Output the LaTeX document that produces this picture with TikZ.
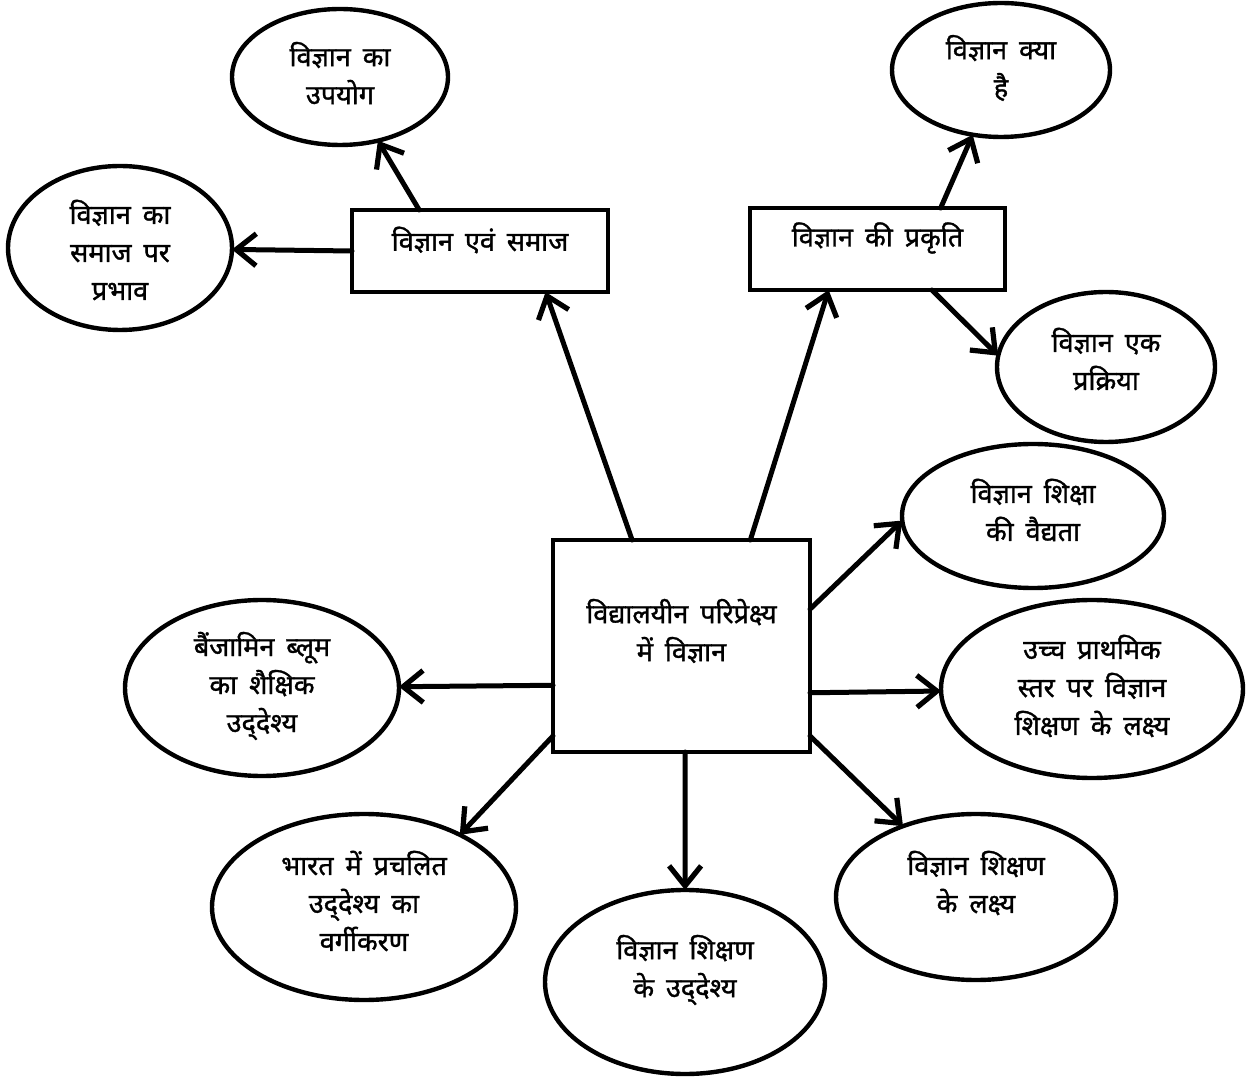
\documentclass[tikz,border=0pt]{standalone}
\usepackage{fontspec}
\setmainfont[Script=Devanagari, WordSpace=1.7, FakeBold=1.2]{Noto Sans}
\usetikzlibrary{shapes.geometric,arrows.meta,calc}
\newcommand{\uddeshya}{उद्^^^^200cदेश्य}
\tikzset{
x=0.5pt, y=-0.5pt,
every node/.style={inner sep=0pt, outer sep=0pt},
topic/.style={draw, ellipse, line width=2.2pt},
hub/.style={draw, rectangle, line width=2.2pt},
words/.style={align=center, font=\fontsize{13.5}{19}\selectfont},
link/.style={-{Straight Barb[length=10pt,width=16pt,line width=2.6pt]}, line width=2.5pt, line cap=round},
}

\begin{document}
\begin{tikzpicture}
    \useasboundingbox (0,0) rectangle (1248,1079);

    % boxes
    \node[hub, minimum width=128.5pt, minimum height=106pt] (centre) at (681.5,646) {};
    \node[hub, minimum width=128pt, minimum height=41pt] (soc) at (480,251) {};
    \node[hub, minimum width=127.5pt, minimum height=41pt] (nat) at (877.5,249) {};

    % ellipses
    \node[topic, minimum width=108pt, minimum height=68pt] (use) at (340,77) {};
    \node[topic, minimum width=112pt, minimum height=82pt] (impact) at (120,248) {};
    \node[topic, minimum width=109pt, minimum height=67pt] (what) at (1001,70) {};
    \node[topic, minimum width=109pt, minimum height=75pt] (process) at (1106,367) {};
    \node[topic, minimum width=131pt, minimum height=72pt] (valid) at (1033,516) {};
    \node[topic, minimum width=151pt, minimum height=89pt] (upper) at (1092,689) {};
    \node[topic, minimum width=140pt, minimum height=83pt] (aims) at (976,897) {};
    \node[topic, minimum width=140pt, minimum height=92pt] (objs) at (685,982) {};
    \node[topic, minimum width=152pt, minimum height=93pt] (india) at (364,907) {};
    \node[topic, minimum width=137pt, minimum height=88pt] (bloom) at (262,688) {};

    % texts
    \node[words] (centre-t) at (681.5,631) {विद्यालयीन परिप्रेक्ष्य\\में विज्ञान};
    \node[words] (soc-t) at (480,240) {विज्ञान एवं समाज};
    \node[words] (nat-t) at (877.5,238) {विज्ञान की प्रकृति};
    \node[words] (use-t) at (340,73) {विज्ञान का\\उपयोग};
    \node[words] (impact-t) at (120,250) {विज्ञान का\\समाज पर\\प्रभाव};
    \node[words] (what-t) at (1001,68) {विज्ञान क्या\\है};
    \node[words] (process-t) at (1106,359) {विज्ञान एक\\प्रक्रिया};
    \node[words] (valid-t) at (1033,510) {विज्ञान शिक्षा\\की वैद्यता};
    \node[words] (upper-t) at (1092,686) {उच्च प्राथमिक\\स्तर पर विज्ञान\\शिक्षण के लक्ष्य};
    \node[words] (aims-t) at (976,883) {विज्ञान शिक्षण\\के लक्ष्य};
    \node[words] (objs-t) at (685,970) {विज्ञान शिक्षण\\के \uddeshya};
    \node[words] (india-t) at (364,901) {भारत में प्रचलित\\\uddeshya{} का\\वर्गीकरण};
    \node[words] (bloom-t) at (262,686) {बैंजामिन ब्लूम\\का शैक्षिक\\\uddeshya};

    % arrows
    \draw[link] (centre.115) -- (soc.-32);
    \draw[link] (centre.57) -- (nat.-140);
    \draw[link] (soc.146) -- (use);
    \draw[link] (soc.west) -- (impact);
    \draw[link] (nat.33) -- (what);
    \draw[link] (nat.-37) -- (process.174);
    \draw[link] (centre.16) -- (valid.182);
    \draw[link] (centre.-20) -- (upper);
    \draw[link] (centre.-35) -- (aims);
    \draw[link] (centre.-88) -- (objs);
    \draw[link] (centre.215) -- (india.37);
    \draw[link] (centre.197) -- (bloom);

\end{tikzpicture}
\end{document}
